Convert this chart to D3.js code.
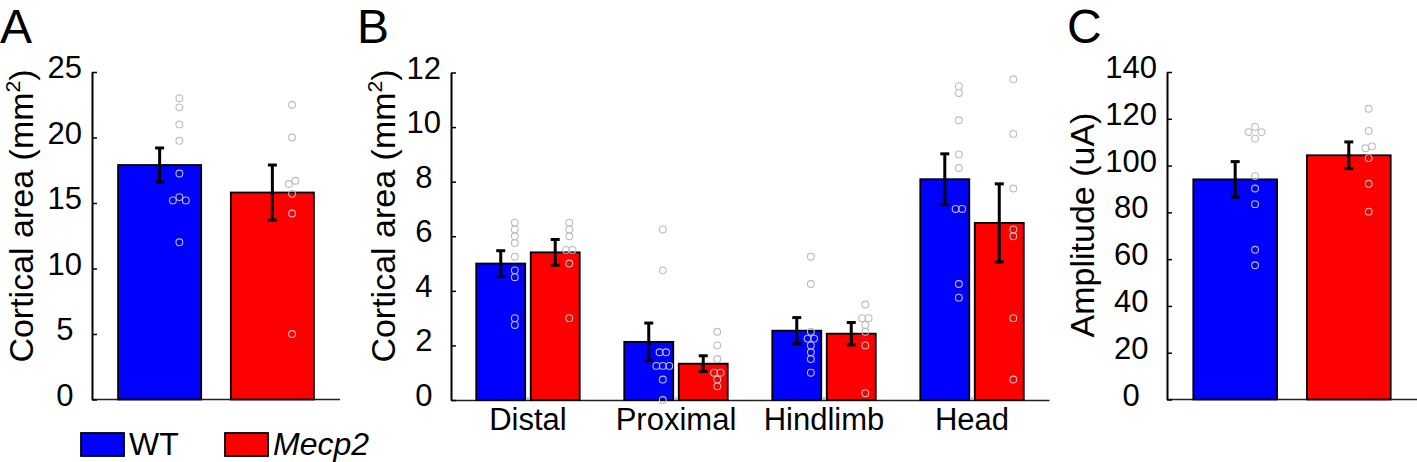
<!DOCTYPE html>
<html>
<head>
<meta charset="utf-8">
<script src="https://cdn.jsdelivr.net/npm/d3@7"></script>
<style>
  body { margin: 0; background: #fff; }
  text { font-family: "Liberation Sans", Arial, Helvetica, sans-serif; fill: #000; }
</style>
</head>
<body>
<div id="wrapper"></div>
<script>
// groups
const groups = ["WT", "Mecp2"];
const colors = ["#0000ff", "#ff0000"];

// A: total cortical area
const areaTicks = [0, 5, 10, 15, 20, 25];
const areaMean = [17.9, 15.8];
const areaSem = [1.3, 2.1];
const areaWT = [23.0, 22.3, 21.0, 19.75, 17.25, 15.45, 15.2, 15.2, 12.0];
const areaMecp2 = [22.5, 20.0, 16.7, 16.45, 15.7, 14.2, 5.0];

// B: cortical area by body region
const regions = ["Distal", "Proximal", "Hindlimb", "Head"];
const regionTicks = [0, 2, 4, 6, 8, 10, 12];
const regionMeanWT = [5.0, 2.13, 2.54, 8.09];
const regionSemWT = [0.47, 0.69, 0.48, 0.93];
const regionMeanMecp2 = [5.41, 1.33, 2.43, 6.49];
const regionSemMecp2 = [0.47, 0.29, 0.41, 1.43];
const regionWT = [
    [6.5, 6.25, 6.0, 5.75, 5.25, 4.75, 4.5, 3.0, 2.75],
    [6.25, 4.75, 1.75, 1.75, 1.25, 1.25, 1.25, 0.75, 0],
    [5.25, 4.25, 2.5, 2.25, 2.25, 2.0, 1.75, 1.5, 1.0],
    [11.5, 11.25, 10.25, 9.0, 8.5, 7.0, 7.0, 4.25, 3.75]
];
const regionMecp2 = [
    [6.5, 6.25, 6.0, 5.5, 5.5, 5.0, 3.0],
    [2.5, 2.0, 1.5, 1.0, 1.0, 0.75, 0.5],
    [3.5, 3.0, 3.0, 2.75, 2.5, 2.0, 0.25],
    [11.75, 9.75, 7.75, 6.25, 6.0, 3.0, 0.75]
];

// C: threshold amplitude
const ampTicks = [0, 20, 40, 60, 80, 100, 120, 140];
const ampMean = [94.1, 104.4];
const ampSem = [7.6, 5.7];
const ampWT = [116.5, 114.3, 114.3, 111.5, 95.5, 90.2, 83.5, 64.0, 57.4];
const ampMecp2 = [124.3, 114.8, 108.2, 107.4, 103.2, 92.2, 80.3];

const W = 1417, H = 462;
const top0 = 72, bot0 = 399.5;
const tickFont = 31, labelFont = 34;

const svg = d3.select("#wrapper")
    .append("svg")
    .attr("width", W)
    .attr("height", H);

// spread dots that sit on nearly the same value
function spread(vals, y, thr, sp) {
    const idx = d3.range(vals.length).sort((a, b) => vals[b] - vals[a]);
    const off = new Array(vals.length).fill(0);
    let grp = [];
    const flush = () => {
        const n = grp.length;
        grp.forEach((k, j) => {
            if (n % 2 === 1) {
                off[k] = j === 0 ? 0 : (j % 2 ? 1 : -1) * Math.ceil(j / 2) * sp;
            } else {
                off[k] = (j % 2 ? -1 : 1) * (Math.floor(j / 2) + 0.5) * sp;
            }
        });
        grp = [];
    };
    idx.forEach(i => {
        if (grp.length && Math.abs(y(vals[grp[grp.length - 1]]) - y(vals[i])) >= thr) flush();
        grp.push(i);
    });
    flush();
    return off;
}

function yAxis(g, y, ticks, x0, label, labelX, labelY) {
    const ax = g.append("g")
        .attr("transform", `translate(${x0},0)`)
        .call(d3.axisLeft(y).tickValues(ticks).tickSize(-5).tickSizeOuter(0).tickPadding(0));
    ax.select(".domain").attr("stroke", "#000").attr("stroke-width", 2);
    ax.selectAll(".tick line").attr("stroke", "#000").attr("stroke-width", 1.5);
    const txt = ax.selectAll(".tick text")
        .attr("font-size", tickFont)
        .attr("font-family", "Liberation Sans, Arial, sans-serif")
        .attr("fill", "#000")
        .attr("dy", 0)
        .attr("y", 5.5)
        .attr("text-anchor", "middle");
    let maxW = 0;
    txt.each(function() { maxW = Math.max(maxW, this.getComputedTextLength()); });
    txt.attr("x", -(10 + maxW / 2));

    // label: main text, optional superscript, closing part
    const lab = g.append("text")
        .attr("transform", `translate(${labelX},${labelY}) rotate(-90)`)
        .attr("text-anchor", "middle")
        .attr("font-size", labelFont);
    lab.append("tspan").text(label.main);
    if (label.sup) {
        lab.append("tspan")
            .attr("font-size", labelFont * 0.62)
            .attr("dy", -labelFont * 0.38)
            .text(label.sup);
        lab.append("tspan")
            .attr("dy", labelFont * 0.38)
            .text(label.tail);
    }
}

function errBar(g, cx, y, m, s) {
    const e = g.append("g").attr("stroke", "#000").attr("stroke-width", 3);
    e.append("line").attr("x1", cx).attr("x2", cx).attr("y1", y(m + s)).attr("y2", y(m - s));
    [m + s, m - s].forEach(v => {
        e.append("line").attr("x1", cx - 4.5).attr("x2", cx + 4.5).attr("y1", y(v)).attr("y2", y(v));
    });
}

function dots(g, cx, y, vals) {
    const off = spread(vals, y, 5.5, 6.5);
    g.append("g")
        .selectAll("circle")
        .data(vals)
        .enter()
        .append("circle")
        .attr("cx", (d, i) => cx + off[i])
        .attr("cy", d => y(d))
        .attr("r", 3.4)
        .attr("fill", "none")
        .attr("stroke", "#bcbcbc")
        .attr("stroke-width", 1.1);
}

// two-bar panels (A and C)
function twoBarPanel(x0, x1, ymax, ticks, means, sems, dotSets, label, labelX, labelY) {
    const g = svg.append("g");
    const x = d3.scaleLinear().domain([0.4, 2.6]).range([x0, x1]);
    const y = d3.scaleLinear().domain([0, ymax]).range([bot0, top0]);
    const bw = x(1.737) - x(1);

    g.append("line")
        .attr("x1", x0).attr("x2", x1)
        .attr("y1", y(0)).attr("y2", y(0))
        .attr("stroke", "#222").attr("stroke-width", 1.5);

    g.selectAll("rect.bar")
        .data(means)
        .enter()
        .append("rect")
        .attr("class", "bar")
        .attr("x", (d, i) => x(i + 1) - bw / 2)
        .attr("y", d => y(d))
        .attr("width", bw)
        .attr("height", d => y(0) - y(d))
        .attr("fill", (d, i) => colors[i])
        .attr("stroke", "#000")
        .attr("stroke-width", 1.8);

    means.forEach((m, i) => errBar(g, x(i + 1), y, m, sems[i]));
    dotSets.forEach((vals, i) => dots(g, x(i + 1.175), y, vals));

    yAxis(g, y, ticks, x0, label, labelX, labelY);
}

twoBarPanel(92, 340, 25, areaTicks, areaMean, areaSem, [areaWT, areaMecp2],
    { main: "Cortical area (mm", sup: "2", tail: ")" }, 33, 216);

twoBarPanel(1167, 1417, 140, ampTicks, ampMean, ampSem, [ampWT, ampMecp2],
    { main: "Amplitude (uA)" }, 1094, 225);

// B: grouped bars
(function() {
    const x0 = 451, x1 = 1049;
    const g = svg.append("g");
    const x = d3.scaleBand().domain(regions).range([x0, x1]).paddingInner(0).paddingOuter(0.02);
    const y = d3.scaleLinear().domain([0, 12]).range([bot0 + 0.5, top0 + 0.5]);
    const step = x.step();
    const bw = step * 0.331;
    const shift = step * 0.184;
    const cx = r => x(r) + x.bandwidth() / 2;

    const xa = g.append("g")
        .attr("transform", `translate(0,${y(0)})`)
        .call(d3.axisBottom(x).tickSize(-3).tickSizeOuter(0).tickPadding(0));
    xa.select(".domain").attr("stroke", "#222").attr("stroke-width", 1.5);
    xa.selectAll(".tick line").attr("stroke", "#888").attr("stroke-width", 1);
    xa.selectAll(".tick text")
        .attr("font-size", tickFont)
        .attr("font-family", "Liberation Sans, Arial, sans-serif")
        .attr("fill", "#000")
        .attr("dy", 0)
        .attr("y", 30);

    const sets = [
        { mean: regionMeanWT, sem: regionSemWT, pts: regionWT, dir: -1 },
        { mean: regionMeanMecp2, sem: regionSemMecp2, pts: regionMecp2, dir: 1 }
    ];
    sets.forEach((s, k) => {
        g.append("g")
            .selectAll("rect")
            .data(regions)
            .enter()
            .append("rect")
            .attr("x", r => cx(r) + s.dir * shift - bw / 2)
            .attr("y", (r, i) => y(s.mean[i]))
            .attr("width", bw)
            .attr("height", (r, i) => y(0) - y(s.mean[i]))
            .attr("fill", colors[k])
            .attr("stroke", "#000")
            .attr("stroke-width", 1.8);
    });
    sets.forEach(s => {
        regions.forEach((r, i) => {
            const c = cx(r) + s.dir * shift;
            errBar(g, c, y, s.mean[i], s.sem[i]);
            dots(g, c + step * 0.095, y, s.pts[i]);
        });
    });

    yAxis(g, y, regionTicks, x0, { main: "Cortical area (mm", sup: "2", tail: ")" }, 395, 216);
})();

// panel letters
const letters = [["A", 0], ["B", 357], ["C", 1067]];
svg.selectAll("text.letter")
    .data(letters)
    .enter()
    .append("text")
    .attr("class", "letter")
    .attr("x", d => d[1])
    .attr("y", 43)
    .attr("font-size", 48)
    .text(d => d[0]);

// legend
const leg = svg.append("g")
    .selectAll("g")
    .data(groups)
    .enter()
    .append("g")
    .attr("transform", (d, i) => `translate(${81 + i * 144},433)`);
leg.append("rect")
    .attr("width", 43)
    .attr("height", 23)
    .attr("fill", (d, i) => colors[i])
    .attr("stroke", "#000")
    .attr("stroke-width", 1.8);
leg.append("text")
    .attr("x", 48)
    .attr("y", 22)
    .attr("font-size", 32)
    .attr("font-style", (d, i) => i === 1 ? "italic" : "normal")
    .text(d => d);
</script>
</body>
</html>
